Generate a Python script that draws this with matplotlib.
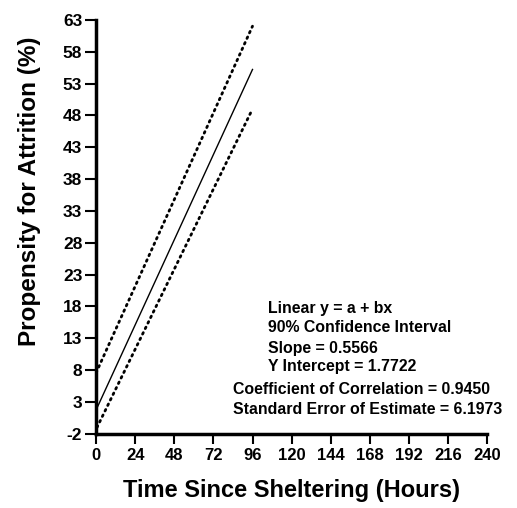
import numpy as np
import matplotlib.pyplot as plt

plt.rcParams['font.family'] = ['Liberation Sans', 'DejaVu Sans']

# regression results
a = 1.7722
b = 0.5566
hours_fit = [0, 96]
attr_fit = [a + b * h for h in hours_fit]

# 90% confidence band
hours_up = [0, 96]
attr_up = [7.6, 62.0]
hours_lo = [0.5, 96]
attr_lo = [-1.0, 49.0]

xticks = [0, 24, 48, 72, 96, 120, 144, 168, 192, 216, 240]
yticks = [-2, 3, 8, 13, 18, 23, 28, 33, 38, 43, 48, 53, 58, 63]

fig = plt.figure(figsize=(5.17, 5.08), dpi=100)
ax = fig.add_axes([0.186, 0.146, 0.756, 0.815])

ax.plot(hours_fit, attr_fit, color='black', lw=1.0)
ax.plot(hours_up, attr_up, color='black', lw=2.0, ls=(0, (0.6, 1.6)), dash_capstyle='round')
ax.plot(hours_lo, attr_lo, color='black', lw=2.0, ls=(0, (0.6, 1.6)), dash_capstyle='round')

ax.set_xlim(0, 240)
ax.set_ylim(-2, 63)
ax.set_xticks(xticks)
ax.set_yticks(yticks)
ax.set_yticklabels([str(t) for t in yticks])
for s in ['top', 'right']:
    ax.spines[s].set_visible(False)
for s in ['left', 'bottom']:
    ax.spines[s].set_linewidth(2.5)
ax.tick_params(axis='y', width=1.5, length=8, labelsize=12.5, pad=2)
ax.tick_params(axis='x', width=1.5, length=7, labelsize=12, pad=3)
for lbl in ax.get_xticklabels() + ax.get_yticklabels():
    lbl.set_fontweight('bold')

ax.set_xlabel('Time Since Sheltering (Hours)', fontsize=17, fontweight='bold', labelpad=12)
ax.set_ylabel('Propensity for Attrition (%)', fontsize=17.5, fontweight='bold')
ax.yaxis.set_label_coords(-0.14, 0.585)

stats_a = ['Linear y = a + bx', '90% Confidence Interval',
           'Slope = 0.5566', 'Y Intercept = 1.7722']
stats_b = ['Coefficient of Correlation = 0.9450',
           'Standard Error of Estimate = 6.1973']
ypix = [308, 328, 348, 367]
for t, yp in zip(stats_a, ypix):
    fig.text(268 / 517, 1 - yp / 508, t, fontsize=11.4, fontweight='bold', va='center')
for t, yp in zip(stats_b, [390, 410]):
    fig.text(233 / 517, 1 - yp / 508, t, fontsize=11.4, fontweight='bold', va='center')

fig.savefig('out.png', dpi=100)
